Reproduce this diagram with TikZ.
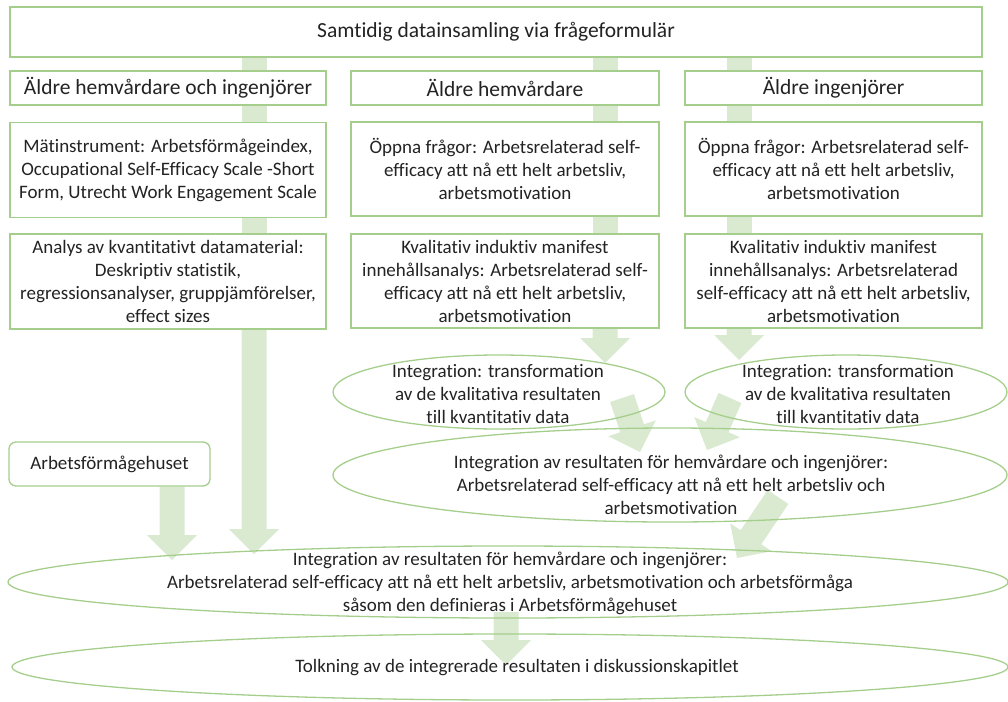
\documentclass[tikz,border=0pt]{standalone}
\usepackage{fontspec}
\setmainfont{Carlito}[Ligatures=NoCommon]
\usetikzlibrary{calc,shapes.geometric}
\definecolor{boxline}{RGB}{165,206,140}
\definecolor{arrowfill}{RGB}{218,234,208}
\definecolor{txt}{RGB}{35,35,35}
\pgfdeclarelayer{bg}
\pgfsetlayers{bg,main}
\tikzset{
  gbox/.style={draw=boxline, line width=1.3pt, fill=white, align=center, text=txt, inner sep=0pt},
  headbox/.style={gbox, font=\fontsize{21.5}{25}\selectfont},
  gell/.style={ellipse, draw=boxline, line width=1.3pt, inner sep=0pt},
  gtext/.style={align=center, text=txt, inner sep=0pt},
  barfill/.style={fill=arrowfill},
}
% plain bar between two points
\newcommand{\gbar}[2]{%
  \path (#1) coordinate (ba) (#2) coordinate (bb);
  \fill[barfill] ($(ba)!12.5pt!90:(bb)$) -- ($(bb)!12.5pt!-90:(ba)$) --
    ($(bb)!12.5pt!90:(ba)$) -- ($(ba)!12.5pt!-90:(bb)$) -- cycle;}
% block arrow with head
\newcommand{\garrow}[2]{%
  \path (#1) coordinate (ba) (#2) coordinate (bb);
  \path ($(bb)!25pt!(ba)$) coordinate (bh);
  \fill[barfill] ($(ba)!12.5pt!90:(bb)$) -- ($(bh)!12.5pt!-90:(ba)$) --
    ($(bh)!25pt!-90:(ba)$) -- (bb) -- ($(bh)!25pt!90:(ba)$) --
    ($(bh)!12.5pt!90:(ba)$) -- ($(ba)!12.5pt!-90:(bb)$) -- cycle;}
\begin{document}
\begin{tikzpicture}[x=1pt,y=-1pt,font=\fontsize{19}{23}\selectfont]
\useasboundingbox (0,0) rectangle (1008,701);
% columns of the connectors
\coordinate (col1) at (254,0);
\coordinate (col2) at (605,0);
\coordinate (col3) at (739,0);
\coordinate (colH) at (172,0);
% top
\node[headbox, minimum width=972pt, minimum height=50pt] (top) at (496,32) {Samtidig datainsamling via frågeformulär};
% row 2
\node[headbox, minimum width=316pt, minimum height=34pt] (b1) at (168,88) {Äldre hemvårdare och ingenjörer};
\node[headbox, minimum width=308pt, minimum height=34pt] (b2) at (505,88) {Äldre hemvårdare};
\node[headbox, minimum width=297pt, minimum height=34pt] (b3) at (833.5,88) {Äldre ingenjörer};
% row 3
\node[gbox, minimum width=316pt, minimum height=95pt] (m1) at (168,170) {Mätinstrument: Arbetsförmågeindex,\\Occupational Self-Efficacy Scale -Short\\Form, Utrecht Work Engagement Scale};
\node[gbox, minimum width=308pt, minimum height=94pt] (m2) at (505,169) {Öppna frågor: Arbetsrelaterad self-\\efficacy att nå ett helt arbetsliv,\\arbetsmotivation};
\node[gbox, minimum width=297pt, minimum height=94pt] (m3) at (833.5,169) {Öppna frågor: Arbetsrelaterad self-\\efficacy att nå ett helt arbetsliv,\\arbetsmotivation};
% row 4
\node[gbox, minimum width=316pt, minimum height=95pt] (a1) at (168,281.5) {Analys av kvantitativt datamaterial:\\Deskriptiv statistik,\\regressionsanalyser, gruppjämförelser,\\effect sizes};
\node[gbox, minimum width=308pt, minimum height=94pt] (a2) at (505,281) {Kvalitativ induktiv manifest\\innehållsanalys: Arbetsrelaterad self-\\efficacy att nå ett helt arbetsliv,\\arbetsmotivation};
\node[gbox, minimum width=297pt, minimum height=94pt] (a3) at (833.5,281) {Kvalitativ induktiv manifest\\innehållsanalys: Arbetsrelaterad\\self-efficacy att nå ett helt arbetsliv,\\arbetsmotivation};
% Arbetsförmågehuset
\node[gbox, rounded corners=7pt, minimum width=201pt, minimum height=44pt] (afh) at (109.5,464) {Arbetsförmågehuset};
% ellipses
\node[gell, minimum width=332pt, minimum height=74pt] (ellL) at (499,392) {};
\node[gell, minimum width=322pt, minimum height=74pt] (ellR) at (846,392) {};
\node[gell, minimum width=674pt, minimum height=94pt] (ellM) at (670,475) {};
\node[gell, minimum width=1000pt, minimum height=72pt] (ellB) at (508,582) {};
\node[gell, minimum width=996pt, minimum height=66pt] (ellT) at (510,667) {};
% ellipse texts
\node[gtext] (tL) at (498,394) {Integration: transformation\\av de kvalitativa resultaten\\till kvantitativ data};
\node[gtext] (tR) at (848,394) {Integration: transformation\\av de kvalitativa resultaten\\till kvantitativ data};
\node[gtext] (tM) at (671,485) {Integration av resultaten för hemvårdare och ingenjörer:\\Arbetsrelaterad self-efficacy att nå ett helt arbetsliv och\\arbetsmotivation};
\node[gtext] (tB) at (510,583) {Integration av resultaten för hemvårdare och ingenjörer:\\Arbetsrelaterad self-efficacy att nå ett helt arbetsliv, arbetsmotivation och arbetsförmåga\\såsom den definieras i Arbetsförmågehuset};
\node[gtext] (tT) at (517,668) {Tolkning av de integrerade resultaten i diskussionskapitlet};
% arrow ends
\coordinate (tipA1) at (254,554);
\coordinate (tipA2) at (605,363);
\coordinate (tipA3) at (739,360);
\coordinate (tipH) at (172,560);
\coordinate (sL) at (622,398);
\coordinate (tipL) at (640,452);
\coordinate (sR) at (730,398);
\coordinate (tipR) at (707,450);
\coordinate (sM) at (778,497);
\coordinate (tipM) at (737,558);
\coordinate (sB) at (506,612);
\coordinate (tipB) at (506,665);
\begin{pgfonlayer}{bg}
  \gbar{top.south -| col1}{b1.north -| col1}
  \gbar{b1.south -| col1}{m1.north -| col1}
  \gbar{m1.south -| col1}{a1.north -| col1}
  \garrow{a1.south -| col1}{tipA1}
  \gbar{top.south -| col2}{b2.north -| col2}
  \gbar{b2.south -| col2}{m2.north -| col2}
  \gbar{m2.south -| col2}{a2.north -| col2}
  \garrow{a2.south -| col2}{tipA2}
  \gbar{top.south -| col3}{b3.north -| col3}
  \gbar{b3.south -| col3}{m3.north -| col3}
  \gbar{m3.south -| col3}{a3.north -| col3}
  \garrow{a3.south -| col3}{tipA3}
  \garrow{afh.south -| colH}{tipH}
  \garrow{sL}{tipL}
  \garrow{sR}{tipR}
  \garrow{sM}{tipM}
  \garrow{sB}{tipB}
\end{pgfonlayer}
\end{tikzpicture}
\end{document}
